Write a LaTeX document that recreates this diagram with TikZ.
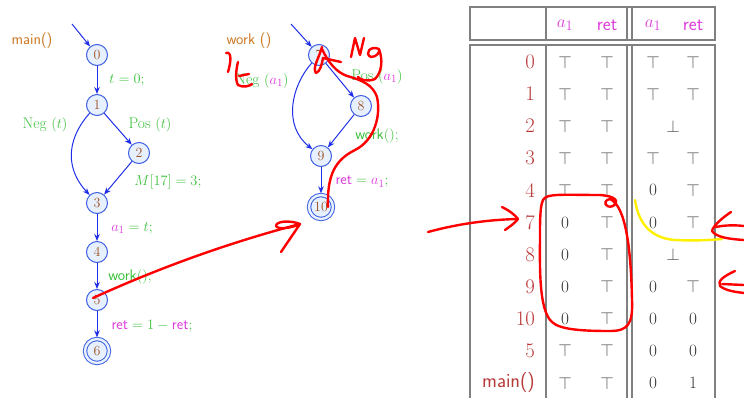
\documentclass[tikz,border=0pt]{standalone}
\usetikzlibrary{arrows.meta}
\definecolor{nodeblue}{HTML}{3F5FE0}
\definecolor{nodefill}{HTML}{E6F0FF}
\definecolor{edgeblue}{HTML}{1F2FE8}
\definecolor{numbrown}{HTML}{A0521E}
\definecolor{lblgreen}{HTML}{3CC03C}
\definecolor{lblmag}{HTML}{DD3CDD}
\definecolor{lblorange}{HTML}{CC7722}
\definecolor{rowred}{HTML}{B83838}
\definecolor{tabgray}{HTML}{808080}
\definecolor{topgray}{HTML}{555555}
\definecolor{annred}{HTML}{FF0000}
\definecolor{annyellow}{HTML}{FFF000}
\newcommand\TopV{\textcolor{topgray}{$\top$}}
\newcommand\ZeroV{\textcolor{black!80}{$0$}}
\newcommand\OneV{\textcolor{black!80}{$1$}}
\newcommand\MagRet{\textcolor{lblmag}{\textsf{ret}}}
\begin{document}
\begin{tikzpicture}[x=1pt,y=-1pt,
  vstate/.style={circle, draw=nodeblue, fill=nodefill, line width=1pt, minimum size=21pt, inner sep=0pt, text=numbrown, font=\fontsize{14}{14}\selectfont},
  finalstate/.style={vstate, minimum size=24pt, double=nodefill, double distance=2.4pt, outer sep=1.7pt},
  cfgedge/.style={draw=edgeblue, line width=1pt, -{Stealth[length=7pt,width=5.5pt]}},
  lbl/.style={font=\fontsize{15.5}{17}\selectfont, text=lblgreen, inner sep=1pt},
  fname/.style={font=\sffamily\fontsize{15.5}{17}\selectfont, text=lblorange, inner sep=1pt},
  tabtxt/.style={font=\fontsize{19}{21}\selectfont, inner sep=1pt},
  tabline/.style={draw=tabgray, line width=1.3pt},
  ann/.style={draw=annred, line width=2.4pt, line cap=round, line join=round},
  annyel/.style={draw=annyellow, line width=2.4pt, line cap=round, line join=round}]
\useasboundingbox (0,0) rectangle (744,397);

% ---------------- main() graph ----------------
\node[fname] (mainlbl) at (32,41) {main()};
\coordinate (in0) at (72,24);
\node[vstate] (n0) at (97,55) {0};
\node[vstate] (n1) at (97,105) {1};
\node[vstate] (n2) at (139,153) {2};
\node[vstate] (n3) at (97,203) {3};
\node[vstate] (n4) at (97,252) {4};
\node[vstate] (n5) at (97,300) {5};
\node[finalstate] (n6) at (97,351) {6};

\draw[cfgedge] (in0) -- (n0);
\draw[cfgedge] (n0) -- (n1);
\draw[cfgedge] (n1) -- (n2);
\draw[cfgedge] (n1) .. controls (70,135) and (62,165) .. (n3);
\draw[cfgedge] (n2) -- (n3);
\draw[cfgedge] (n3) -- (n4);
\draw[cfgedge] (n4) -- (n5);
\draw[cfgedge] (n5) -- (n6);

\node[lbl] (l01) at (127,80) {$t = 0;$};
\node[lbl] (l13) at (45,125) {Neg $(t)$};
\node[lbl] (l12) at (150,125) {Pos $(t)$};
\node[lbl] (l23) at (168,182) {$M[17] = 3;$};
\node[lbl] (l34) at (132,228) {$\textcolor{lblmag}{a_1} = t;$};
\node[lbl] (l45) at (130,277) {\textsf{work}$()$;};
\node[lbl] (l56) at (152,326) {$\MagRet = 1 - \MagRet;$};

% ---------------- work() graph ----------------
\node[fname] (worklbl) at (249,41) {work ()};
\coordinate (in7) at (291,24);
\node[vstate] (n7) at (319,55) {7};
\node[vstate] (n8) at (361,106) {8};
\node[vstate] (n9) at (321,156) {9};
\node[finalstate] (n10) at (321,207) {10};

\draw[cfgedge] (in7) -- (n7);
\draw[cfgedge] (n7) -- (n8);
\draw[cfgedge] (n7) .. controls (292,85) and (282,125) .. (n9);
\draw[cfgedge] (n8) -- (n9);
\draw[cfgedge] (n9) -- (n10);

\node[lbl] (l79) at (262,81) {Neg $(\textcolor{lblmag}{a_1})$};
\node[lbl] (l78) at (377,77) {Pos $(\textcolor{lblmag}{a_1})$};
\node[lbl] (l89) at (377,136) {\textsf{work}$()$;};
\node[lbl] (l910) at (362,182) {$\MagRet = \textcolor{lblmag}{a_1};$};

% ---------------- table ----------------
\draw[tabline] (470,7) rectangle (715,40);
\draw[tabline] (546,7) -- (546,40);
\draw[tabline] (627,7) -- (627,40);
\draw[tabline] (632,7) -- (632,40);
\draw[tabline] (470,400) -- (470,45) -- (715,45) -- (715,400);
\draw[tabline] (546,45) -- (546,400);
\draw[tabline] (627,45) -- (627,400);
\draw[tabline] (632,45) -- (632,400);

\node[tabtxt] (h1) at (565,25) {\textcolor{lblmag}{$a_1$}};
\node[tabtxt] (h2) at (607,25) {\MagRet};
\node[tabtxt] (h3) at (653,25) {\textcolor{lblmag}{$a_1$}};
\node[tabtxt] (h4) at (693,25) {\MagRet};

\foreach \i/\lab/\va/\vb/\vc/\vd in {
  0/$0$/\TopV/\TopV/\TopV/\TopV,
  1/$1$/\TopV/\TopV/\TopV/\TopV,
  2/$2$/\TopV/\TopV/{}/{},
  3/$3$/\TopV/\TopV/\TopV/\TopV,
  4/$4$/\TopV/\TopV/\ZeroV/\TopV,
  5/$7$/\ZeroV/\TopV/\ZeroV/\TopV,
  6/$8$/\ZeroV/\TopV/{}/{},
  7/$9$/\ZeroV/\TopV/\ZeroV/\TopV,
  8/$10$/\ZeroV/\TopV/\ZeroV/\ZeroV,
  9/$5$/\TopV/\TopV/\ZeroV/\ZeroV,
  10/\textsf{main()}/\TopV/\TopV/\ZeroV/\OneV}{
  \node[tabtxt, anchor=east, text=rowred, font=\fontsize{20}{22}\selectfont] (rl\i) at (536,{62+32.1*\i}) {\lab};
  \node[tabtxt] (ca\i) at (565,{62+32.1*\i}) {\va};
  \node[tabtxt] (cb\i) at (607,{62+32.1*\i}) {\vb};
  \node[tabtxt] (cc\i) at (653,{62+32.1*\i}) {\vc};
  \node[tabtxt] (cd\i) at (693,{62+32.1*\i}) {\vd};
}
\node[tabtxt] (bot2) at (673,126) {\textcolor{topgray}{$\bot$}};
\node[tabtxt] (bot8) at (673,254) {\textcolor{topgray}{$\bot$}};

% ---------------- handwritten annotations ----------------
% arrow from node 5 towards work()
\draw[ann] (93,298) .. controls (150,272) and (220,245) .. (300,224);
\draw[ann] (300,224) .. controls (290,220) and (276,221) .. (276,226) .. controls (278,230) and (292,228) .. (300,224) -- (281,252);
% scribbles on work() graph
\draw[ann] (328,207) .. controls (327,175) and (335,160) .. (355,150) .. controls (375,140) and (381,115) .. (377,97) .. controls (373,85) and (362,80) .. (347,76) .. controls (336,72) and (328,62) .. (322,49);
\draw[ann] (322,47) .. controls (319,58) and (312,68) .. (316,73) .. controls (320,72) and (322,64) .. (323,58) -- (341,62);
\draw[ann] (351,57) -- (355,38) -- (360,55) -- (364,38);
\draw[ann] (379,49) .. controls (370,45) and (364,54) .. (371,57) .. controls (377,57) and (380,52) .. (379,49) .. controls (383,60) and (382,72) .. (375,79) .. controls (368,82) and (360,80) .. (358,77);
\draw[ann] (226,53) .. controls (232,51) and (231,62) .. (228,72);
\draw[ann] (238,62) .. controls (236,70) and (235,80) .. (238,85) .. controls (243,88) and (250,86) .. (252,84);
\draw[ann] (239,76) -- (249,74);
% arrow into table row 7
\draw[ann] (428,232) .. controls (450,226) and (480,220) .. (517,219);
\draw[ann] (502,207) .. controls (510,211) and (515,215) .. (518,219) .. controls (514,224) and (509,227) .. (505,230);
% box around column
\draw[ann] (543,200) .. controls (546,193) and (565,195) .. (600,195) .. controls (615,196) and (620,201) .. (613,206) .. controls (606,209) and (601,201) .. (610,199) .. controls (626,206) and (631,250) .. (632,300) .. controls (633,324) and (628,331) .. (610,331) .. controls (585,331) and (560,330) .. (552,322) .. controls (538,310) and (540,262) .. (540,232) .. controls (540,212) and (541,204) .. (543,200);
% yellow mark
\draw[annyel] (635,200) .. controls (638,220) and (648,238) .. (675,240) .. controls (695,241) and (710,240) .. (722,239);
% arrows from right
\draw[ann] (731,212) .. controls (722,218) and (713,226) .. (712,231) .. controls (716,237) and (728,239) .. (744,240);
\draw[ann] (716,227) .. controls (725,225) and (735,225) .. (744,226);
\draw[ann] (735,271) .. controls (724,276) and (717,281) .. (720,286) .. controls (726,291) and (736,292) .. (744,293);
\draw[ann] (722,284) -- (744,285);
\end{tikzpicture}
\end{document}
